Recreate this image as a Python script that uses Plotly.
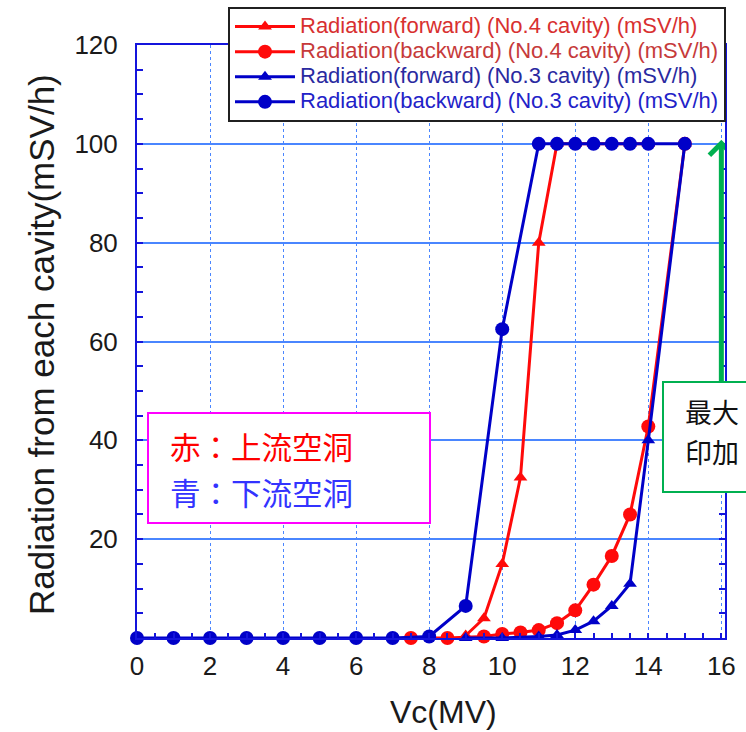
import plotly.graph_objects as go

# ---- data ----
x_red_fwd = [9, 9.5, 10, 10.5, 11, 11.5, 12, 12.5, 13, 13.5, 14]
y_red_fwd = [0.5, 4, 15, 32.5, 80, 100, 100, 100, 100, 100, 100]

x_red_bwd = [7.5, 8.5, 9.5, 10, 10.5, 11, 11.5, 12, 12.5, 13, 13.5, 14, 15]
y_red_bwd = [0, 0, 0.3, 0.8, 1.1, 1.6, 3.0, 5.6, 10.8, 16.6, 25, 42.8, 100]

x_blue_fwd = [9, 10, 11, 11.5, 12, 12.5, 13, 13.5, 14, 15]
y_blue_fwd = [0, 0, 0.3, 0.6, 1.6, 3.4, 6.5, 11, 40, 100]

x_blue_bwd = [0, 1, 2, 3, 4, 5, 6, 7, 8, 9, 10, 11, 11.5, 12, 12.5, 13, 13.5, 14, 15]
y_blue_bwd = [0, 0, 0, 0, 0, 0, 0, 0, 0.3, 6.5, 62.5, 100, 100, 100, 100, 100, 100, 100, 100]

names = [
    "Radiation(forward) (No.4 cavity) (mSV/h)",
    "Radiation(backward) (No.4 cavity) (mSV/h)",
    "Radiation(forward) (No.3 cavity) (mSV/h)",
    "Radiation(backward) (No.3 cavity) (mSV/h)",
]
name_colors = ["#d83030", "#c63a3a", "#2a2aa0", "#2222c8"]

x_ticks = [0, 2, 4, 6, 8, 10, 12, 14, 16]
y_ticks = [20, 40, 60, 80, 100, 120]

# arrow target (max voltage marker) in data units
arrow_x = 16
arrow_y_tip = 100.3
arrow_y_tail = 51.5

RED = "#ff0a0a"
BLUE = "#0000c8"
AXIS = "#1414dc"
GRID = "#4a86ff"
GREEN = "#00b050"
FONT = "Liberation Sans, Arial, sans-serif"
JP = "Noto Sans CJK JP"

L, R, T, B = 137, 21, 45, 94
PW, PH = 746 - L - R, 732 - T - B


def px(xp):
    return (xp - L) / PW


def py(yp):
    return (732 - B - yp) / PH


fig = go.Figure()

def add(xs, ys, color, symbol, size, idx):
    fig.add_trace(go.Scatter(
        x=xs, y=ys, mode="lines+markers",
        name="<span style='color:%s;font-size:22px'>%s</span>" % (name_colors[idx], names[idx]),
        line=dict(color=color, width=3),
        marker=dict(symbol=symbol, size=size, color=color),
        cliponaxis=False, legendrank=idx + 1,
    ))

add(x_red_fwd, y_red_fwd, RED, "triangle-up", 12, 0)
add(x_red_bwd, y_red_bwd, RED, "circle", 14, 1)
add(x_blue_bwd, y_blue_bwd, BLUE, "circle", 14, 3)
add(x_blue_fwd, y_blue_fwd, BLUE, "triangle-up", 12, 2)

fig.update_layout(
    width=746, height=732,
    margin=dict(l=L, r=R, t=T, b=B, autoexpand=False),
    paper_bgcolor="white", plot_bgcolor="white",
    font=dict(family=FONT, color="#1a1a1a"),
    showlegend=True,
    legend=dict(
        x=px(228), y=py(7), xanchor="left", yanchor="top",
        bgcolor="white", bordercolor="#202020", borderwidth=2,
        font=dict(size=17, family=FONT), itemwidth=60,
        tracegroupgap=0,
    ),
    xaxis=dict(
        range=[0, 16.1], tickvals=x_ticks, ticks="inside", ticklen=5,
        tickcolor=AXIS, tickwidth=1.5,
        showline=True, linecolor=AXIS, linewidth=2, mirror=True,
        showgrid=True, gridcolor=GRID, gridwidth=1.2, griddash="dot",
        zeroline=False, tickfont=dict(size=26, color="#1a1a1a"),
        ticklabelstandoff=4,
        minor=dict(dtick=0.5, tick0=0, ticks="inside", ticklen=5,
                   tickcolor=AXIS, tickwidth=1.5, showgrid=False),
    ),
    yaxis=dict(
        range=[0, 120], tickvals=y_ticks, ticks="inside", ticklen=6,
        tickcolor=AXIS, tickwidth=1.5,
        showline=True, linecolor=AXIS, linewidth=2, mirror="ticks",
        showgrid=True, gridcolor=GRID, gridwidth=2,
        zeroline=False, tickfont=dict(size=26, color="#1a1a1a"),
        ticklabelstandoff=12,
        minor=dict(dtick=5, tick0=0, ticks="inside", ticklen=6,
                   tickcolor=AXIS, tickwidth=1.5, showgrid=False),
    ),
)

# axis titles
fig.add_annotation(xref="paper", yref="paper", x=px(443), y=py(712),
                   text="Vc(MV)", showarrow=False, xanchor="center", yanchor="middle",
                   font=dict(size=32, family=FONT, color="#1a1a1a"))
fig.add_annotation(xref="paper", yref="paper", x=px(41), y=py(345),
                   text="Radiation from each cavity(mSV/h)", textangle=-90,
                   showarrow=False, xanchor="center", yanchor="middle",
                   font=dict(size=35, family=FONT, color="#1a1a1a"))

# Japanese text box (magenta)
fig.add_shape(type="rect", xref="paper", yref="paper", layer="above",
              x0=px(148), x1=px(430), y0=py(523), y1=py(413),
              line=dict(color="#ff00ff", width=2), fillcolor="white")
fig.add_annotation(xref="paper", yref="paper", x=px(168), y=py(446),
                   text="赤：上流空洞", showarrow=False, xanchor="left", yanchor="middle",
                   font=dict(size=30.5, family=JP, color="#ff0000"))
fig.add_annotation(xref="paper", yref="paper", x=px(168), y=py(492),
                   text="青：下流空洞", showarrow=False, xanchor="left", yanchor="middle",
                   font=dict(size=30.5, family=JP, color="#3333ff"))

# green arrow (shaft + chevron head)
fig.add_shape(type="line", xref="x", yref="y", layer="above",
              x0=arrow_x, x1=arrow_x, y0=arrow_y_tail, y1=arrow_y_tip - 0.6,
              line=dict(color=GREEN, width=5))
fig.add_shape(type="path", xref="x", yref="y", layer="above",
              xsizemode="pixel", ysizemode="pixel",
              xanchor=arrow_x, yanchor=arrow_y_tip,
              path="M-12,-13 L0,-1 L12,-13",
              line=dict(color=GREEN, width=5))

# green box
fig.add_shape(type="rect", xref="paper", yref="paper", layer="above",
              x0=px(663), x1=px(770), y0=py(492), y1=py(382),
              line=dict(color=GREEN, width=2), fillcolor="white")
fig.add_annotation(xref="paper", yref="paper", x=px(683), y=py(411),
                   text="最大", showarrow=False, xanchor="left", yanchor="middle",
                   font=dict(size=27, family=JP, color="#111111"))
fig.add_annotation(xref="paper", yref="paper", x=px(683), y=py(451),
                   text="印加", showarrow=False, xanchor="left", yanchor="middle",
                   font=dict(size=27, family=JP, color="#111111"))

fig.write_html("out.html")
